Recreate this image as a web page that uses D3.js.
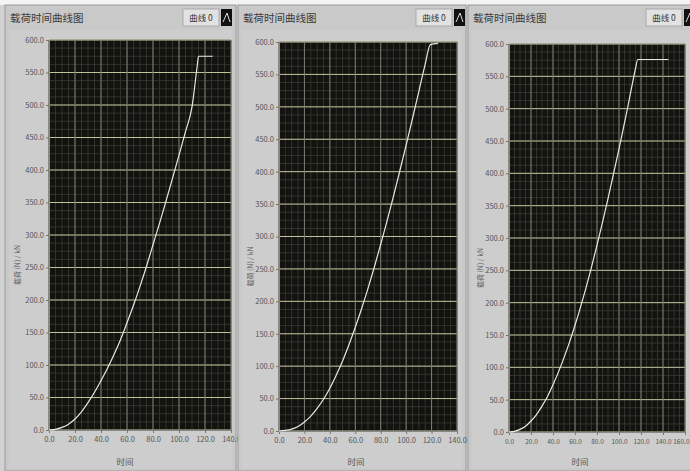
<!DOCTYPE html>
<html>
<head>
<meta charset="utf-8">
<script src="https://cdn.jsdelivr.net/npm/d3@7"></script>
<style>
  html, body { margin: 0; padding: 0; background: #ffffff; }
  svg { display: block; }
  text { font-family: "Noto Sans CJK SC", "Liberation Sans", sans-serif; }
</style>
</head>
<body>
<svg id="chart" width="690" height="471"></svg>
<script>
// Load–time curves recorded on three runs
const titles = ["载荷时间曲线图", "载荷时间曲线图", "载荷时间曲线图"];
const legendLabel = "曲线 0";
const xTitle = "时间";
const yTitle = "载荷 (N) / kN";

const yTicks = [0, 50, 100, 150, 200, 250, 300, 350, 400, 450, 500, 550, 600];
const xTicksA = [0, 20, 40, 60, 80, 100, 120, 140];
const xTicksB = [0, 20, 40, 60, 80, 100, 120, 140, 160];

const run1X = [0, 5, 10, 15, 20, 25, 30, 35, 40, 45, 50, 55, 60, 65, 70, 75, 80, 85, 90, 95, 100, 105, 110, 114, 115, 126];
const run1Y = [0, 1, 4, 9, 17, 28, 42, 58, 76, 95, 116, 139, 165, 192, 221, 252, 285, 318, 352, 387, 423, 459, 497, 560, 575, 575];

const run2X = [0, 5, 10, 15, 20, 25, 30, 35, 40, 45, 50, 55, 60, 65, 70, 75, 80, 85, 90, 95, 100, 105, 110, 115, 119, 125];
const run2Y = [0, 1, 3, 7, 14, 23, 35, 49, 66, 86, 108, 133, 160, 189, 220, 253, 288, 324, 362, 401, 441, 482, 524, 566, 596, 598];

const run3X = [0, 5, 10, 15, 20, 25, 30, 35, 40, 45, 50, 55, 60, 65, 70, 75, 80, 85, 90, 95, 100, 105, 110, 115, 117, 145];
const run3Y = [0, 1, 4, 9, 17, 27, 40, 55, 73, 93, 115, 139, 165, 193, 223, 255, 289, 324, 361, 399, 438, 478, 520, 562, 576, 576];

const panels = [
  { x0: 5,   x1: 236, px0: 49,  px1: 231, py0: 40, py1: 430, xt: xTicksA, xs: run1X, ys: run1Y, title: titles[0], xl: 125, fs: 7.5 },
  { x0: 238, x1: 466, px0: 279, px1: 457, py0: 42, py1: 431, xt: xTicksA, xs: run2X, ys: run2Y, title: titles[1], xl: 356, fs: 7.5 },
  { x0: 468, x1: 700, px0: 509, px1: 685, py0: 44, py1: 432, xt: xTicksB, xs: run3X, ys: run3Y, title: titles[2], xl: 580, fs: 6.5 }
];

const svg = d3.select("#chart");
svg.append("rect").attr("width", 690).attr("height", 471).attr("fill", "#d2d2d2");
svg.append("rect").attr("width", 690).attr("height", 5).attr("fill", "#f4f4f4");

const fmt = d => d.toFixed(1);

panels.forEach((p, i) => {
  const g = svg.append("g");
  // panel frame
  g.append("rect").attr("x", p.x0).attr("y", 5).attr("width", p.x1 - p.x0).attr("height", 466)
    .attr("fill", "#c9c9c9").attr("stroke", "#9a9a9a").attr("stroke-width", 1);
  g.append("rect").attr("x", p.x0 + 4).attr("y", 30).attr("width", p.x1 - p.x0 - 8).attr("height", 438)
    .attr("fill", "#cdcdcd");

  // title
  g.append("text").attr("x", p.x0 + 5).attr("y", 22).attr("font-size", 10.5).attr("fill", "#3a3a3a")
    .text(p.title);

  // plot legend
  const lx = p.x0 + 178;
  g.append("rect").attr("x", lx).attr("y", 9).attr("width", 36).attr("height", 17)
    .attr("fill", "#e2e2e2").attr("stroke", "#aaa");
  g.append("text").attr("x", lx + 18).attr("y", 21).attr("text-anchor", "middle")
    .attr("font-size", 8.5).attr("fill", "#333").text(legendLabel);
  g.append("rect").attr("x", lx + 38).attr("y", 9).attr("width", 11).attr("height", 17).attr("fill", "#111");
  g.append("path").attr("d", `M${lx + 40},22 L${lx + 44},13 L${lx + 47},22`).attr("stroke", "#ddd")
    .attr("fill", "none").attr("stroke-width", 1);

  const x = d3.scaleLinear().domain([0, p.xt[p.xt.length - 1]]).range([p.px0, p.px1]);
  const y = d3.scaleLinear().domain([0, 600]).range([p.py1, p.py0]);

  // plot area
  g.append("rect").attr("x", p.px0).attr("y", p.py0).attr("width", p.px1 - p.px0).attr("height", p.py1 - p.py0)
    .attr("fill", "#12130f");

  // minor grid
  const minorY = d3.range(0, 600.01, 12.5);
  const minorX = d3.range(0, x.domain()[1] + 0.01, 5);
  g.selectAll(".my").data(minorY).join("line")
    .attr("x1", p.px0).attr("x2", p.px1).attr("y1", d => y(d)).attr("y2", d => y(d))
    .attr("stroke", "#3a3b33").attr("stroke-width", 0.8);
  g.selectAll(".mx").data(minorX).join("line")
    .attr("y1", p.py0).attr("y2", p.py1).attr("x1", d => x(d)).attr("x2", d => x(d))
    .attr("stroke", "#3a3b33").attr("stroke-width", 0.8);

  // major grid
  g.selectAll(".gy").data(yTicks).join("line")
    .attr("x1", p.px0).attr("x2", p.px1).attr("y1", d => y(d)).attr("y2", d => y(d))
    .attr("stroke", "#c2c19c").attr("stroke-width", 1);
  g.selectAll(".gx").data(p.xt).join("line")
    .attr("y1", p.py0).attr("y2", p.py1).attr("x1", d => x(d)).attr("x2", d => x(d))
    .attr("stroke", "#7c7c70").attr("stroke-width", 1);

  // axes
  const ya = d3.axisLeft(y).tickValues(yTicks).tickFormat(fmt).tickSize(3).tickPadding(2);
  const ga = g.append("g").attr("transform", `translate(${p.px0},0)`).call(ya);
  const xa = d3.axisBottom(x).tickValues(p.xt).tickFormat(fmt).tickSize(3).tickPadding(4);
  const gb = g.append("g").attr("transform", `translate(0,${p.py1})`).call(xa);
  [ga, gb].forEach(a => {
    a.select(".domain").attr("stroke", "#888");
    a.selectAll(".tick line").attr("stroke", "#777");
    a.selectAll(".tick text").attr("font-size", 7.5).attr("fill", "#555")
      .attr("font-family", "Liberation Sans, sans-serif");
  });
  gb.selectAll(".tick text").attr("font-size", p.fs);
  // the last label of the widest axis sits at the window edge
  if (p.xt.length > 8) {
    gb.selectAll(".tick text").filter(d => d === p.xt[p.xt.length - 1]).attr("text-anchor", "end").attr("dx", 4);
  }

  // axis titles
  g.append("text").attr("transform", `translate(${p.x0 + 15},${(p.py0 + p.py1) / 2 + 30}) rotate(-90)`)
    .attr("text-anchor", "middle").attr("font-size", 7).attr("fill", "#555").text(yTitle);
  g.append("text").attr("x", p.xl).attr("y", 465)
    .attr("text-anchor", "middle").attr("font-size", 8.5).attr("fill", "#555").text(xTitle);

  // curve
  const pts = p.xs.map((v, k) => [v, p.ys[k]]);
  g.append("path").datum(pts)
    .attr("d", d3.line().x(d => x(d[0])).y(d => y(d[1])).curve(d3.curveMonotoneX))
    .attr("fill", "none").attr("stroke", "#e8e8e0").attr("stroke-width", 1.2);
});
</script>
</body>
</html>
